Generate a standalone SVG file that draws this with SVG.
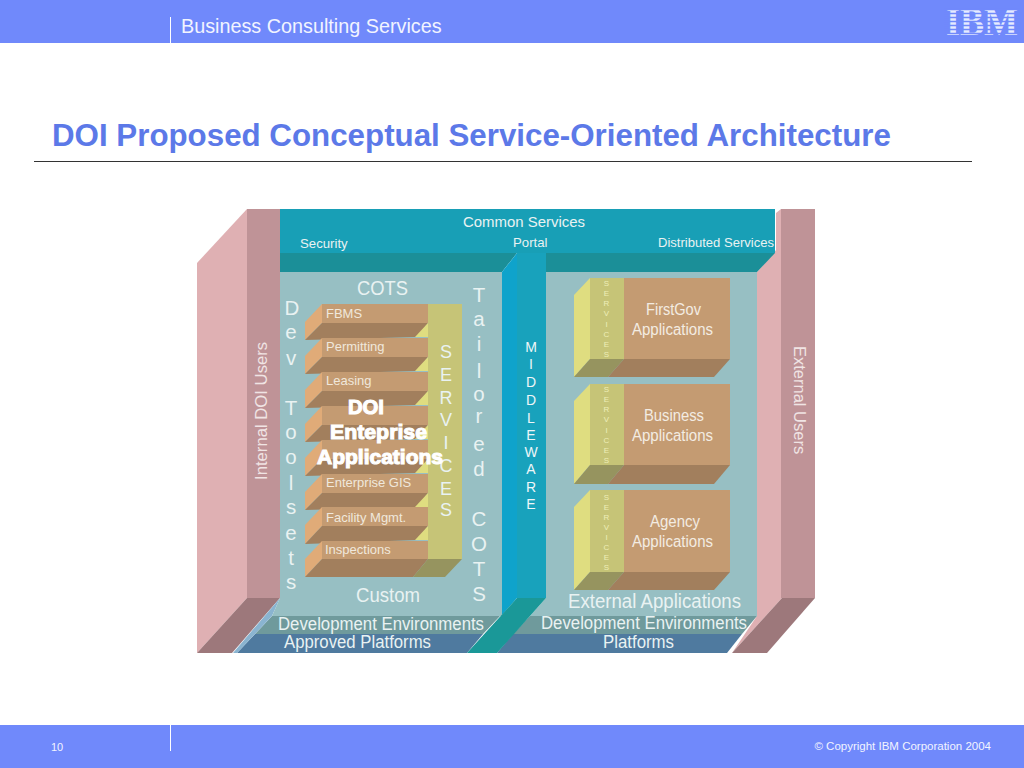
<svg xmlns="http://www.w3.org/2000/svg" width="1024" height="768" viewBox="0 0 1024 768">
<defs>
<style>
text{font-family:"Liberation Sans",Arial,sans-serif;fill:#e9f2f2}
.c{text-anchor:middle}
.front{fill:#c49b72}.under{fill:#a27f5d}.side{fill:#e0ab78}
.svc{fill:#c6c477}.svcb{fill:#96945f}.yel{fill:#dfdd80}
.lbl{font-size:13px;fill:#f0e8dc}
.app{font-size:16px;fill:#f3ece2;text-anchor:middle}
.v21{font-size:20.500px;text-anchor:middle}
.v18{font-size:18px;text-anchor:middle}
.v14{font-size:14px;text-anchor:middle}
.v8{font-size:8px;text-anchor:middle;fill:#eeeeb8}
.big{font-size:20px;text-anchor:middle}
.doi{font-size:20.500px;font-weight:bold;text-anchor:middle;fill:#fff;stroke:#fff;stroke-width:1.100}
</style>
</defs>
<rect width="1024" height="768" fill="#fff"/>
<g id="header">
<rect width="1024" height="43" fill="#7089fb"/>
<rect x="170" y="17" width="1" height="26" fill="#fff"/>
<text x="181" y="33" font-size="19.800" style="fill:#f2f4ff">Business Consulting Services</text>
<g id="ibm-logo">
<text x="946" y="35" font-size="39" font-weight="bold" textLength="72" lengthAdjust="spacingAndGlyphs" style="font-family:'Liberation Serif',serif;fill:#e6ebff">IBM</text>
<path d="M944 9.500H1020M944 13.500H1020M944 17.500H1020M944 21.500H1020M944 25.500H1020M944 29.500H1020M944 33.500H1020" stroke="#7089fb" stroke-width="1.500" fill="none"/>
</g>
</g>
<text id="title" x="52" y="146" font-size="31.300" font-weight="bold" style="fill:#5c79e8">DOI Proposed Conceptual Service-Oriented Architecture</text>
<rect x="34" y="161" width="938" height="1" fill="#333"/>

<g id="left-wall">
<polygon points="197,263 247,209 247,598 197,653" fill="#dfb0b3"/>
<rect x="247" y="209" width="33" height="389" fill="#bf9397"/>
<polygon points="247,598 280,598 232,653 197,653" fill="#9d787b"/>
<text transform="translate(267,480) rotate(-90)" font-size="16.700" style="fill:#f0e4e4">Internal DOI Users</text>
</g>
<g id="right-wall">
<polygon points="757,272 776,250 776,213 781,209 782,598 732,653 757,616" fill="#dfb0b3"/>
<rect x="781" y="209" width="34" height="389" fill="#bf9397"/>
<polygon points="782,598 815,598 767,653 732,653" fill="#9d787b"/>
<text transform="translate(794,346) rotate(90)" font-size="16.500" style="fill:#f0e4e4">External Users</text>
</g>
<g id="platforms">
<polygon points="272,616 500,616 483,634 255,634" fill="#6f9a9c"/>
<polygon points="255,634 483,634 467,653 237,653" fill="#4f7a9f"/>
<polygon points="280,598 272,616 255,634 237,653 233,653" fill="#8ab4d0"/>
<polygon points="530,616 757,616 742,634 513,634" fill="#6f9a9c"/>
<polygon points="513,634 742,634 727,653 497,653" fill="#4f7a9f"/>
<text x="278" y="630" font-size="17.500" textLength="206" lengthAdjust="spacingAndGlyphs">Development Environments</text>
<text x="284" y="648" font-size="17.500" textLength="147" lengthAdjust="spacingAndGlyphs">Approved Platforms</text>
<text x="541" y="629" font-size="17.500" textLength="206" lengthAdjust="spacingAndGlyphs">Development Environments</text>
<text x="603" y="648" font-size="17.500" textLength="71" lengthAdjust="spacingAndGlyphs">Platforms</text>
</g>
<g id="panels">
<polygon points="280,272 502,272 502,616 272,616 280,598" fill="#97bfc3"/>
<polygon points="546,272 757,272 757,616 530,616 546,598" fill="#97bfc3"/>
</g>
<g id="common-services">
<rect x="280" y="209" width="495" height="44" fill="#189fb6"/>
<polygon points="280,253 517,253 502,272 280,272" fill="#1b8f98"/>
<polygon points="546,253 775,253 757,272 546,272" fill="#1b8f98"/>
<text x="463" y="227" font-size="15.500" textLength="122" lengthAdjust="spacingAndGlyphs">Common Services</text>
<text x="300" y="248" font-size="13.200">Security</text>
<text x="513" y="247" font-size="13.200">Portal</text>
<text x="658" y="247" font-size="13.200" textLength="116" lengthAdjust="spacingAndGlyphs">Distributed Services</text>
</g>
<g id="middleware">
<polygon points="502,272 517,253 517,598 502,615" fill="#0fa3cb"/>
<rect x="517" y="253" width="29" height="345" fill="#18a2bc"/>
<polygon points="517,598 546,598 497,653 467,653" fill="#1a9898"/>
<text class="v14" style="fill:#eef6f8"><tspan x="531" y="352">M</tspan><tspan x="531" y="369">I</tspan><tspan x="531" y="387">D</tspan><tspan x="531" y="405">D</tspan><tspan x="531" y="423">L</tspan><tspan x="531" y="440">E</tspan><tspan x="531" y="457">W</tspan><tspan x="531" y="474">A</tspan><tspan x="531" y="492">R</tspan><tspan x="531" y="509">E</tspan></text>
</g>
<g id="cots-stack">
<text x="357" y="295" font-size="20" textLength="51" lengthAdjust="spacingAndGlyphs">COTS</text>
<text x="356" y="602" font-size="20" textLength="64" lengthAdjust="spacingAndGlyphs">Custom</text>
<rect x="428" y="304" width="34" height="255" class="svc"/>
<g id="box-fbms"><polygon points="322,304 322,323 305,340 305,322" class="side"/><rect x="322" y="304" width="106" height="19" class="front"/><polygon points="322,323 428,323 417,337 305,340" class="under"/><polygon points="428,323 428,337 415,337" class="yel"/><text x="326" y="318" class="lbl">FBMS</text></g>
<g id="box-permitting"><polygon points="322,338 322,357 305,374 305,356" class="side"/><rect x="322" y="338" width="106" height="19" class="front"/><polygon points="322,357 428,357 417,371 305,374" class="under"/><polygon points="428,357 428,371 415,371" class="yel"/><text x="326" y="351" class="lbl">Permitting</text></g>
<g id="box-leasing"><polygon points="322,372 322,391 305,408 305,390" class="side"/><rect x="322" y="372" width="106" height="19" class="front"/><polygon points="322,391 428,391 417,405 305,408" class="under"/><polygon points="428,391 428,405 415,405" class="yel"/><text x="326" y="385" class="lbl">Leasing</text></g>
<g id="box-4"><polygon points="322,406 322,425 305,442 305,424" class="side"/><rect x="322" y="406" width="106" height="19" class="front"/><polygon points="322,425 428,425 417,439 305,442" class="under"/><polygon points="428,425 428,439 415,439" class="yel"/></g>
<g id="box-5"><polygon points="322,440 322,459 305,476 305,458" class="side"/><rect x="322" y="440" width="106" height="19" class="front"/><polygon points="322,459 428,459 417,473 305,476" class="under"/><polygon points="428,459 428,473 415,473" class="yel"/></g>
<g id="box-gis"><polygon points="322,474 322,493 305,510 305,492" class="side"/><rect x="322" y="474" width="106" height="19" class="front"/><polygon points="322,493 428,493 417,507 305,510" class="under"/><polygon points="428,493 428,507 415,507" class="yel"/><text x="326" y="487" class="lbl">Enterprise GIS</text></g>
<g id="box-facility"><polygon points="322,507 322,526 305,544 305,525" class="side"/><rect x="322" y="507" width="106" height="19" class="front"/><polygon points="322,526 428,526 417,540 305,544" class="under"/><polygon points="428,526 428,540 415,540" class="yel"/><text x="326" y="522" class="lbl">Facility Mgmt.</text></g>
<g id="box-inspections"><polygon points="322,541 322,559 305,577 305,559" class="side"/><rect x="322" y="541" width="106" height="18" class="front"/><polygon points="322,559 428,559 413,577 305,577" class="under"/><text x="325" y="554" class="lbl">Inspections</text></g>
<polygon points="428,559 462,559 445,577 413,577" class="svcb"/>
<text class="v18"><tspan x="446" y="358">S</tspan><tspan x="446" y="381">E</tspan><tspan x="446" y="404">R</tspan><tspan x="446" y="426">V</tspan><tspan x="446" y="449">I</tspan><tspan x="446" y="472">C</tspan><tspan x="446" y="495">E</tspan><tspan x="446" y="516">S</tspan></text>
<text class="doi" x="366" y="414" textLength="36" lengthAdjust="spacingAndGlyphs">DOI</text>
<text class="doi" x="378.500" y="439" textLength="97" lengthAdjust="spacingAndGlyphs">Enteprise</text>
<text class="doi" x="380" y="464" textLength="126" lengthAdjust="spacingAndGlyphs">Applications</text>
</g>
<g id="dev-toolsets"><text class="v21"><tspan x="292" y="315">D</tspan><tspan x="291" y="339">e</tspan><tspan x="291" y="365">v</tspan><tspan x="291" y="415">T</tspan><tspan x="291" y="439">o</tspan><tspan x="291" y="464">o</tspan><tspan x="291" y="490">l</tspan><tspan x="291" y="514">s</tspan><tspan x="291" y="540">e</tspan><tspan x="291" y="565">t</tspan><tspan x="291" y="589">s</tspan></text></g>
<g id="tailored-cots"><text class="v21"><tspan x="479" y="302">T</tspan><tspan x="479" y="326">a</tspan><tspan x="479" y="351">i</tspan><tspan x="479" y="378">l</tspan><tspan x="479" y="401">o</tspan><tspan x="479" y="423">r</tspan><tspan x="479" y="451">e</tspan><tspan x="479" y="476">d</tspan><tspan x="479" y="526">C</tspan><tspan x="479" y="551">O</tspan><tspan x="479" y="576">T</tspan><tspan x="479" y="601">S</tspan></text></g>
<g id="firstgov">
<polygon points="590,278 590,359 574,377 574,295" class="yel"/>
<rect x="590" y="278" width="34" height="81" class="svc"/><rect x="624" y="278" width="106" height="81" class="front"/>
<polygon points="590,359 624,359 608,377 574,377" class="svcb"/><polygon points="624,359 730,359 714,377 608,377" class="under"/>
<text class="v8"><tspan x="606.500" y="286">S</tspan><tspan x="606.500" y="296">E</tspan><tspan x="606.500" y="306">R</tspan><tspan x="606.500" y="316">V</tspan><tspan x="606.500" y="327">I</tspan><tspan x="606.500" y="337">C</tspan><tspan x="606.500" y="347">E</tspan><tspan x="606.500" y="357">S</tspan></text>
<text class="app" x="673.500" y="315" textLength="55" lengthAdjust="spacingAndGlyphs">FirstGov</text><text class="app" x="672.500" y="335" textLength="81" lengthAdjust="spacingAndGlyphs">Applications</text>
</g>
<g id="business">
<polygon points="590,384 590,465 574,484 574,401" class="yel"/>
<rect x="590" y="384" width="34" height="81" class="svc"/><rect x="624" y="384" width="106" height="81" class="front"/>
<polygon points="590,465 624,465 608,484 574,484" class="svcb"/><polygon points="624,465 730,465 714,484 608,484" class="under"/>
<text class="v8"><tspan x="606.500" y="392">S</tspan><tspan x="606.500" y="402">E</tspan><tspan x="606.500" y="412">R</tspan><tspan x="606.500" y="422">V</tspan><tspan x="606.500" y="433">I</tspan><tspan x="606.500" y="443">C</tspan><tspan x="606.500" y="453">E</tspan><tspan x="606.500" y="463">S</tspan></text>
<text class="app" x="674" y="421" textLength="60" lengthAdjust="spacingAndGlyphs">Business</text><text class="app" x="672.500" y="441" textLength="81" lengthAdjust="spacingAndGlyphs">Applications</text>
</g>
<g id="agency">
<polygon points="590,490 590,572 574,590 574,507" class="yel"/>
<rect x="590" y="490" width="34" height="82" class="svc"/><rect x="624" y="490" width="106" height="82" class="front"/>
<polygon points="590,572 624,572 608,590 574,590" class="svcb"/><polygon points="624,572 730,572 714,590 608,590" class="under"/>
<text class="v8"><tspan x="606.500" y="500">S</tspan><tspan x="606.500" y="510">E</tspan><tspan x="606.500" y="520">R</tspan><tspan x="606.500" y="530">V</tspan><tspan x="606.500" y="540">I</tspan><tspan x="606.500" y="550">C</tspan><tspan x="606.500" y="560">E</tspan><tspan x="606.500" y="570">S</tspan></text>
<text class="app" x="675" y="527" textLength="50" lengthAdjust="spacingAndGlyphs">Agency</text><text class="app" x="672.500" y="547" textLength="81" lengthAdjust="spacingAndGlyphs">Applications</text>
</g>
<text x="568" y="608" font-size="20" textLength="173" lengthAdjust="spacingAndGlyphs">External Applications</text>
<g id="footer">
<rect y="725" width="1024" height="43" fill="#7089fb"/>
<rect x="170" y="725" width="1" height="26" fill="#fff"/>
<text x="51" y="751" font-size="11" style="fill:#f2f4ff">10</text>
<text x="991" y="750" font-size="11.500" text-anchor="end" style="fill:#f2f4ff">© Copyright IBM Corporation 2004</text>
</g>
</svg>
